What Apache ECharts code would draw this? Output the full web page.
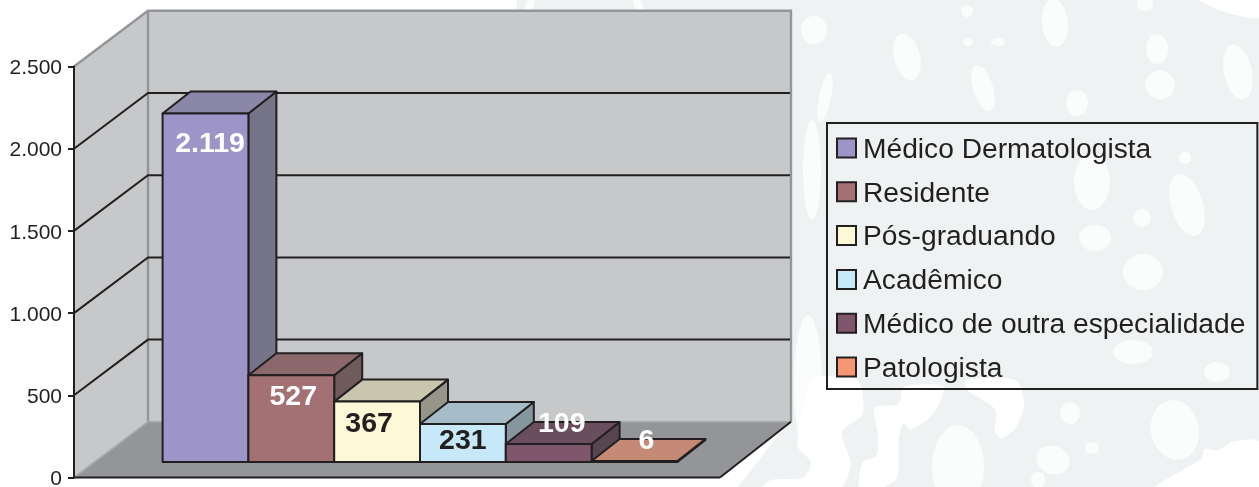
<!DOCTYPE html>
<html><head><meta charset="utf-8">
<style>html,body{margin:0;padding:0;background:#fff}#c{width:1259px;height:487px}</style>
<script src="https://cdn.jsdelivr.net/npm/echarts@6/dist/echarts.min.js"></script>
</head><body><div id="c"></div>
<script>
const seriesNames = ['Médico Dermatologista','Residente','Pós-graduando','Acadêmico','Médico de outra especialidade','Patologista'];
const seriesValues = [2119,527,367,231,109,6];
const valueLabels = ['2.119','527','367','231','109','6'];
const categories = ['Total'];
const yTicks = [0,500,1000,1500,2000,2500];

const frontColors = ['#9d94c8','#a37073','#fdf8d6','#c6e8f8','#7f566c','#f79673'];
const topColors = ['#8a87a8','#8b686b','#c9c6b0','#a6bcc8','#6a4e5e','#c48a76'];
const sideColors = ['#767488','#6f5a5c','#96958a','#85969f','#584552','#8f6a5c'];
const labelColors = ['#fff','#fff','#231f20','#231f20','#fff','#fff'];
const labelNudge = [[4.5,31],[2,22],[-8,23],[0,17],[13,-20],[12,-20]];

const ink = '#231f20', wall = '#c7c8ca', floor = '#939598';
const DEPTH_X = 74, DEPTH_Y = -55.7, BACK_INSET = 3, BAR_DX = 28, BAR_DY = -22, BAR_W = 85.8;
const FONT = '"Liberation Sans", Arial, sans-serif';

function floorFrame(params, api) {
  const p0 = api.coord([0, 0]), p1 = api.coord([0, 2500]);
  const band = api.size([1, 0])[0];
  const xl = p0[0] - band / 2, xr = p0[0] + band / 2, y0 = p0[1], y1 = p1[1];
  const bxl = xl + DEPTH_X, bxr = xr + DEPTH_X - BACK_INSET;
  const kids = [];
  kids.push({type:'polygon',shape:{points:[[xl,y0],[xl,y1],[bxl,y1+DEPTH_Y],[bxl,y0+DEPTH_Y]]},style:{fill:wall}});
  kids.push({type:'polygon',shape:{points:[[bxl,y0+DEPTH_Y],[bxl,y1+DEPTH_Y],[bxr,y1+DEPTH_Y],[bxr,y0+DEPTH_Y]]},style:{fill:wall}});
  kids.push({type:'polygon',shape:{points:[[xl,y0],[bxl,y0+DEPTH_Y],[bxr,y0+DEPTH_Y],[xr,y0]]},style:{fill:floor}});
  kids.push({type:'polyline',shape:{points:[[xl,y1],[bxl,y1+DEPTH_Y],[bxr,y1+DEPTH_Y],[bxr,y0+DEPTH_Y]]},style:{stroke:floor,lineWidth:2.4,fill:null}});
  kids.push({type:'line',shape:{x1:bxl,y1:y0+DEPTH_Y,x2:bxl,y2:y1+DEPTH_Y},style:{stroke:floor,lineWidth:2.4}});
  kids.push({type:'polyline',shape:{points:[[xl,y0],[bxl,y0+DEPTH_Y],[bxr,y0+DEPTH_Y]]},style:{stroke:'#a7a9ac',lineWidth:1.6,fill:null}});
  yTicks.forEach(t => {
    if (t === 0 || t === 2500) return;
    const y = api.coord([0, t])[1];
    kids.push({type:'polyline',shape:{points:[[xl,y],[bxl,y+DEPTH_Y],[bxr-1,y+DEPTH_Y]]},style:{stroke:ink,lineWidth:2,fill:null}});
  });
  kids.push({type:'line',shape:{x1:xr,y1:y0,x2:bxr,y2:y0+DEPTH_Y},style:{stroke:ink,lineWidth:2}});
  kids.push({type:'line',shape:{x1:xl,y1:y0,x2:xr,y2:y0},style:{stroke:ink,lineWidth:2}});
  return {type:'group',children:kids};
}

function bar3d(i) {
  return function (params, api) {
    const v = api.value(1);
    const p0 = api.coord([0, 0]), pv = api.coord([0, v]);
    const h = p0[1] - pv[1];
    const groupW = BAR_W * seriesValues.length;
    const inset = (DEPTH_X - BAR_DX) / 2;
    const x0 = p0[0] - groupW / 2 + i * BAR_W + inset;
    const x1 = x0 + BAR_W;
    const yb = p0[1] + (DEPTH_Y - BAR_DY) / 2 + 1.3;
    const yt = yb - h;
    const s = {stroke:ink,lineWidth:2,lineJoin:'round'};
    return {type:'group',children:[
      {type:'polygon',shape:{points:[[x1,yb],[x1,yt],[x1+BAR_DX,yt+BAR_DY],[x1+BAR_DX,yb+BAR_DY]]},style:Object.assign({fill:sideColors[i]},s)},
      {type:'polygon',shape:{points:[[x0,yt],[x1,yt],[x1+BAR_DX,yt+BAR_DY],[x0+BAR_DX,yt+BAR_DY]]},style:Object.assign({fill:topColors[i]},s)},
      {type:'rect',shape:{x:x0,y:yt,width:BAR_W,height:yb-yt},style:Object.assign({fill:frontColors[i]},s)},
      {type:'text',z2:10,style:{text:valueLabels[i],x:(x0+x1)/2+labelNudge[i][0],y:yt+labelNudge[i][1],align:'center',verticalAlign:'middle',fill:labelColors[i],font:'bold 28.5px '+FONT}}
    ]};
  };
}

const series = [{
  type:'custom',name:'frame',silent:true,z:1,renderItem:floorFrame,data:[[0,0]],encode:{x:0,y:1},clip:false
}];
seriesNames.forEach((n,i)=>{
  series.push({type:'custom',name:n,z:3+i,renderItem:bar3d(i),clip:false,encode:{x:0,y:1},
    data:[[0,seriesValues[i]]],
    itemStyle:{color:frontColors[i]}});
});

// decorative background texture
const Z7=(pts)=>pts.map(p=>[720+p[0]/2.91,380+p[1]/2.91]);
const blobs=[[814,30,13,14,0],[907,57,13,24,.25],[967,11,6,6,0],[968,42,5,4,0],[998,42,7,4,0],[1055,23,13,24,.1],[1145,4,8,7,0],[1157,49,11,15,0],[1160,85,15,14,-.4],[1238,72,14,28,.2],[983,88,10,24,.3],[1077,103,11,13,0],[825,97,6,25,-.2],
[1092,182,18,28,0],[1187,205,16,32,.3],[1142,218,9,9,0],[1095,238,16,13,0],[1143,272,20,18,0],[1185,158,6,6,0],[1133,352,20,12,0],[1217,372,13,10,0],
[530,5,4,7,-.5],[638,4,4,8,.5],[812,170,9,50,0],[808,385,14,70,0],
[958,467,26,42,0],[1070,413,10,11,0],[1053,460,17,14,-.4],[1092,448,7,6,0],[1175,430,24,30,.2],[1038,480,7,8,0]];
const polys=[
 Z7([[270,0],[400,0],[415,100],[355,150],[380,245],[345,320],[115,320],[150,290],[240,285],[265,240],[225,190]]),
 Z7([[450,80],[520,70],[535,20],[650,20],[620,100],[555,145],[535,125],[520,170],[515,285],[455,320],[405,320],[415,240],[455,220],[460,160]]),
 Z7([[715,0],[860,0],[885,70],[860,140],[820,170],[800,150],[800,85],[720,30]]),
 Z7([[1260,320],[1400,230],[1410,200],[1450,205],[1490,180],[1570,180],[1570,320]]),
 [[1200,0],[1259,0],[1259,18],[1225,12]]
];
const graphic=[{type:'polygon',z:-3,silent:true,shape:{points:[[517,0],[1259,0],[1259,487],[738,487],[790,420],[790,11],[517,11]]},style:{fill:'#eef2f3'}}];
blobs.forEach(b=>graphic.push({type:'ellipse',z:-2,silent:true,x:b[0],y:b[1],rotation:b[4],shape:{cx:0,cy:0,rx:b[2],ry:b[3]},style:{fill:'#fbfcfc'}}));
polys.forEach(p=>graphic.push({type:'polygon',z:-2,silent:true,shape:{points:p,smooth:0.25},style:{fill:'#ffffff'}}));

const chart = echarts.init(document.getElementById('c'),null,{renderer:'canvas'});
chart.setOption({
  backgroundColor:'#fff',
  animation:false,
  graphic:graphic,
  grid:{left:74,top:66.5,width:646,height:411,containLabel:false,outerBoundsMode:'none'},
  xAxis:{type:'category',data:categories,axisLine:{show:false},axisTick:{show:false},axisLabel:{show:false},splitLine:{show:false}},
  yAxis:{type:'value',min:0,max:2500,interval:500,z:5,
    axisLine:{show:true,onZero:false,lineStyle:{color:ink,width:2}},
    axisTick:{show:true,length:6,lineStyle:{color:ink,width:2}},
    splitLine:{show:false},
    axisLabel:{margin:12,padding:[4,0,0,0],
      rich:{t:{color:ink,fontSize:21,fontFamily:FONT}},
      formatter:v=>'{t|'+(v>=1000?Math.floor(v/1000)+'.'+String(v%1000).padStart(3,'0'):String(v))+'}'}},
  legend:{show:true,orient:'vertical',left:827,top:123,
    padding:[13,12,6,9],itemGap:15.8,itemWidth:19,itemHeight:19,icon:'rect',
    borderColor:ink,borderWidth:2,backgroundColor:'transparent',
    selectedMode:false,
    data:seriesNames.map((n,i)=>({name:n,itemStyle:{color:frontColors[i],borderColor:ink,borderWidth:2}})),
    formatter:n=>'{t|'+n+'}',
    textStyle:{padding:[4,0,0,2],rich:{t:{color:ink,fontSize:28.2,lineHeight:25,fontFamily:FONT}}}},
  series:series
});
</script></body></html>
